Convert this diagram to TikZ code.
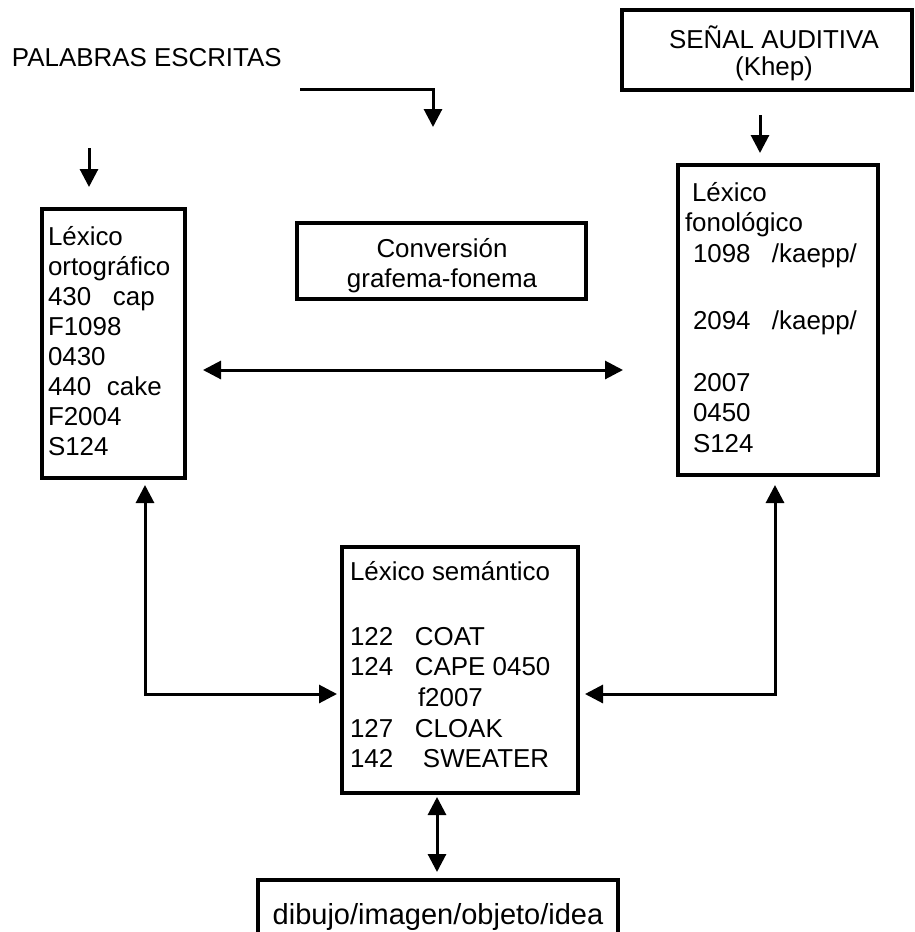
\documentclass[tikz,border=0pt]{standalone}
\usepackage{fontspec}
\setmainfont{Liberation Sans}
\usetikzlibrary{arrows.meta,calc}
\begin{document}
\begin{tikzpicture}[x=1pt,y=-1pt,
  box/.style={draw,line width=3.2pt,inner sep=0pt,outer sep=0pt,anchor=north west},
  txt/.style={inner sep=0pt,outer sep=0pt,font=\fontsize{25.9}{#1}\selectfont},
  txt/.default=30,
  tip/.tip={Triangle[width=18pt,length=18pt]},
  arr/.style={line width=3pt,-tip},
  darr/.style={line width=3pt,tip-tip}]
\useasboundingbox (0,0) rectangle (914,932);

% boxes
\node[box,minimum width=143pt,minimum height=269pt] (orto) at (42,209) {};
\node[box,minimum width=200pt,minimum height=310pt] (fono) at (678,165) {};
\node[box,minimum width=236pt,minimum height=246pt] (sem) at (342,547) {};
\node[box,minimum width=289pt,minimum height=76pt] (conv) at (297,223) {};
\node[box,minimum width=290pt,minimum height=80pt] (senal) at (622,10) {};
\node[box,minimum width=360pt,minimum height=70pt] (obj) at (258,880) {};

% texts
\node[txt,anchor=base west] (paltxt) at (12,66) {PALABRAS ESCRITAS};
\node[txt=27,anchor=base] (senaltxt) at (774,48)
  {\begin{tabular}[t]{@{}c@{}}SEÑAL AUDITIVA\\(Khep)\end{tabular}};
\node[txt=30,anchor=base] (convtxt) at (442,257)
  {\begin{tabular}[t]{@{}c@{}}Conversión\\grafema-fonema\end{tabular}};
\node[txt=30,anchor=base west] (ortotxt) at (48,245)
  {\begin{tabular}[t]{@{}l@{}}Léxico\\ortográfico\\\makebox[65pt][l]{430}cap\\F1098\\0430\\\makebox[59pt][l]{440}cake\\F2004\\S124\end{tabular}};
\node[txt=30.5,anchor=base west] (fonotxt) at (685,201)
  {\begin{tabular}[t]{@{}l@{}}\hspace*{7pt}Léxico\\fonológico\\\hspace*{8pt}\makebox[79pt][l]{1098}/kaepp/\\[36.5pt]\hspace*{8pt}\makebox[79pt][l]{2094}/kaepp/\\[31.5pt]\hspace*{8pt}2007\\\hspace*{8pt}0450\\\hspace*{8pt}S124\end{tabular}};
\node[txt=30.7,anchor=base west] (semtxt) at (350,580)
  {\begin{tabular}[t]{@{}l@{}}Léxico semántico\\[34.3pt]\makebox[65pt][l]{122}COAT\\\makebox[65pt][l]{124}CAPE 0450\\\hspace*{68pt}f2007\\\makebox[65pt][l]{127}CLOAK\\\makebox[73pt][l]{142}SWEATER\end{tabular}};
\node[inner sep=0pt,outer sep=0pt,font=\fontsize{29}{34}\selectfont,anchor=base] (objtxt) at (438,924) {dibujo/imagen/objeto/idea};

% helper coordinates
\coordinate (hy) at (0,370);
\coordinate (ay) at (0,694);
\coordinate (lx) at (145,0);
\coordinate (rx) at (775,0);
\coordinate (bx) at (437,0);
\coordinate (sx) at (760,0);
\coordinate (pa) at (89,148);
\coordinate (hk) at (300,89);
\coordinate (hkend) at (433,127);

% connectors
\draw[arr] (hk) -| (hkend);
\draw[arr,shorten >=22pt] (pa) -- (pa |- orto.north);
\draw[arr,shorten <=25pt,shorten >=12pt] (senal.south -| sx) -- (fono.north -| sx);
\draw[darr,shorten <=18pt,shorten >=55pt] (orto.east |- hy) -- (fono.west |- hy);
\draw[darr,shorten <=7pt,shorten >=5pt] (orto.south -| lx) |- (sem.west |- ay);
\draw[darr,shorten <=10pt,shorten >=7pt] (fono.south -| rx) |- (sem.east |- ay);
\draw[darr,shorten <=4pt,shorten >=8pt] (sem.south -| bx) -- (obj.north -| bx);
\end{tikzpicture}
\end{document}
